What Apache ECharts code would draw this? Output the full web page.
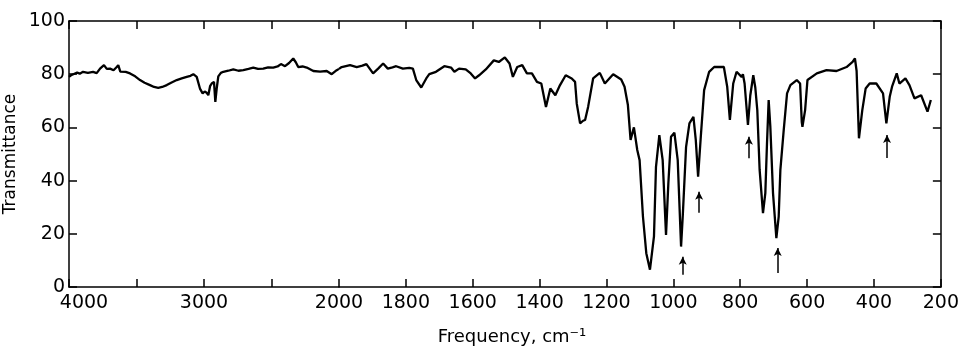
<!DOCTYPE html>
<html>
<head>
<meta charset="utf-8">
<script src="https://cdn.jsdelivr.net/npm/echarts@6/dist/echarts.min.js"></script>
<style>
  html, body { margin: 0; padding: 0; background: #fff; }
  #chart { width: 962px; height: 346px; }
</style>
</head>
<body>
<div id="chart"></div>
<script>
// Spectrum: [wavenumber cm^-1, transmittance %]
const spectrumHigh = [
  [4000, 79.0], [3985, 79.6], [3968, 80.0], [3940, 80.6], [3920, 80.2], [3896, 80.9],
  [3860, 80.5], [3822, 80.9], [3795, 80.4], [3770, 82.1], [3741, 83.4], [3720, 82.0],
  [3696, 82.1], [3670, 81.5], [3650, 82.5], [3635, 83.4], [3620, 81.0], [3610, 81.6],
  [3580, 80.9], [3548, 80.3], [3510, 79.2], [3474, 77.8], [3440, 76.8], [3400, 75.9],
  [3370, 75.2], [3339, 74.9], [3310, 75.2], [3276, 75.9], [3240, 76.9], [3202, 77.8],
  [3165, 78.4], [3128, 79.0], [3100, 79.4], [3079, 80.0], [3054, 79.0], [3030, 74.6],
  [3010, 72.8], [2995, 73.5], [2980, 73.0], [2968, 72.1], [2955, 75.5], [2943, 76.5],
  [2926, 77.1], [2916, 69.6], [2905, 75.0], [2894, 79.2], [2875, 80.5], [2857, 80.9],
  [2820, 81.3], [2783, 81.8], [2745, 81.3], [2709, 81.5], [2670, 82.0], [2635, 82.5],
  [2600, 82.0], [2561, 82.1], [2525, 82.6], [2487, 82.5], [2455, 82.9], [2430, 83.8],
  [2400, 83.0], [2370, 84.2], [2339, 85.9], [2320, 84.5], [2302, 82.7], [2270, 82.9],
  [2239, 82.5], [2190, 81.2], [2140, 81.0], [2091, 81.2], [2054, 80.0], [2017, 81.5],
  [2000, 82.0]
];
const spectrumLow = [
  [2000, 82.0], [1992, 82.7], [1967, 83.4], [1947, 82.7], [1930, 83.2], [1918, 83.8],
  [1898, 80.3], [1883, 82.1], [1868, 84.0], [1854, 82.1], [1840, 82.6], [1829, 83.0],
  [1809, 82.1], [1790, 82.4], [1779, 82.1], [1769, 77.8], [1754, 75.0], [1739, 78.4],
  [1730, 80.0], [1710, 80.9], [1685, 83.0], [1665, 82.5], [1655, 80.9], [1641, 82.1],
  [1621, 81.8], [1606, 80.3], [1593, 78.4], [1581, 79.6], [1561, 81.8], [1537, 85.2],
  [1522, 84.6], [1504, 86.3], [1490, 84.0], [1480, 79.0], [1467, 82.7], [1452, 83.4],
  [1438, 80.3], [1423, 80.3], [1408, 77.1], [1395, 76.5], [1381, 67.7], [1368, 74.6],
  [1353, 72.1], [1339, 75.9], [1322, 79.6], [1304, 78.4], [1294, 77.1], [1289, 69.0],
  [1279, 61.5], [1270, 62.5], [1264, 62.8], [1255, 67.7], [1240, 78.4], [1220, 80.5],
  [1205, 76.5], [1180, 80.0], [1156, 78.0], [1146, 75.3], [1136, 68.4], [1128, 55.3],
  [1118, 60.0], [1108, 51.5], [1101, 47.7], [1091, 26.5], [1081, 12.7], [1070, 6.5],
  [1066, 5.9], [1058, 19.0], [1052, 45.2], [1042, 57.1], [1032, 47.7], [1022, 19.6],
  [1015, 39.0], [1007, 56.5], [997, 58.0], [987, 47.7], [977, 15.2], [972, 26.5],
  [962, 52.7], [952, 61.5], [940, 64.0], [933, 55.3], [926, 41.5], [918, 56.5],
  [908, 74.0], [893, 80.9], [878, 82.7], [849, 82.7], [839, 75.3], [831, 62.8],
  [821, 76.5], [811, 80.9], [796, 79.0], [792, 80.0], [787, 76.5], [777, 60.9],
  [770, 72.0], [761, 79.6], [755, 75.0], [749, 66.5], [742, 44.0], [732, 27.8],
  [725, 35.3], [720, 54.0], [715, 70.3], [710, 60.2], [702, 35.3], [692, 18.4],
  [685, 26.5], [680, 44.0], [670, 59.0], [660, 72.8], [650, 75.9], [631, 77.8],
  [621, 76.5], [616, 62.0], [614, 60.2], [606, 66.5], [599, 77.8], [571, 80.3],
  [542, 81.5], [512, 81.2], [482, 82.7], [464, 84.6], [457, 85.9], [452, 81.2],
  [445, 55.9], [435, 66.5], [425, 74.6], [413, 76.5], [393, 76.5], [373, 72.8],
  [363, 61.5], [353, 71.5], [346, 75.3], [332, 80.3], [324, 76.5], [306, 78.4],
  [294, 75.9], [279, 70.9], [259, 72.1], [240, 65.9], [230, 70.3]
];
// Arrow annotations: [wavenumber, tail T, head T]
const arrows = [
  [972, 4.6, 11.4],
  [923, 27.9, 35.8],
  [774, 48.4, 56.5],
  [688, 5.3, 14.7],
  [361, 48.5, 57.1]
];
const highTicks = [2000, 4000, 500];   // min, max, interval
const lowTicks = [200, 2000, 200];
const highLabels = [4000, 3000];
const yTicks = [0, 100, 20];
const xTitle = 'Frequency, cm⁻¹';
const yTitle = 'Transmittance';

const FONT = 'DejaVu Sans';
const axisLineStyle = { color: '#000', width: 1.5 };
const tickCommon = { show: true, inside: true, length: 8, lineStyle: { color: '#000', width: 1.5 } };
const labelCommon = { color: '#000', fontFamily: FONT, fontSize: 19 };

const chart = echarts.init(document.getElementById('chart'), null, { renderer: 'canvas' });
const option = {
  backgroundColor: '#fff',
  animation: false,
  grid: [
    { left: 69, width: 270, top: 21, bottom: 59 },
    { left: 339, width: 606, top: 21, bottom: 59 }
  ],
  xAxis: [
    {
      gridIndex: 0, type: 'value', position: 'bottom', inverse: true,
      min: highTicks[0], max: highTicks[1], interval: highTicks[2],
      axisLine: { show: true, lineStyle: axisLineStyle },
      axisTick: tickCommon,
      splitLine: { show: false },
      axisLabel: Object.assign({}, labelCommon, {
        margin: 7, showMinLabel: true, showMaxLabel: true,
        formatter: v => v === highLabels[0] ? '{a|' + v + '}' : (highLabels.includes(v) ? String(v) : ''),
        rich: { a: { padding: [0, 0, 0, 30], color: '#000', fontFamily: FONT, fontSize: 19 } }
      })
    },
    {
      gridIndex: 0, type: 'value', position: 'top', inverse: true,
      min: highTicks[0], max: highTicks[1], interval: highTicks[2],
      axisLine: { show: true, lineStyle: axisLineStyle },
      axisTick: tickCommon, splitLine: { show: false }, axisLabel: { show: false }
    },
    {
      gridIndex: 1, type: 'value', position: 'bottom', inverse: true,
      min: lowTicks[0], max: lowTicks[1], interval: lowTicks[2],
      axisLine: { show: true, lineStyle: axisLineStyle },
      axisTick: tickCommon, splitLine: { show: false },
      axisLabel: Object.assign({}, labelCommon, {
        margin: 7, showMinLabel: true, showMaxLabel: true,
        formatter: v => String(v)
      })
    },
    {
      gridIndex: 1, type: 'value', position: 'top', inverse: true,
      min: lowTicks[0], max: lowTicks[1], interval: lowTicks[2],
      axisLine: { show: true, lineStyle: axisLineStyle },
      axisTick: tickCommon, splitLine: { show: false }, axisLabel: { show: false }
    }
  ],
  yAxis: [
    {
      gridIndex: 0, type: 'value', position: 'left',
      min: yTicks[0], max: yTicks[1], interval: yTicks[2],
      axisLine: { show: true, lineStyle: axisLineStyle },
      axisTick: tickCommon, splitLine: { show: false },
      axisLabel: Object.assign({}, labelCommon, { margin: 4 }),
      name: yTitle, nameLocation: 'middle', nameGap: 50,
      nameTextStyle: { color: '#000', fontFamily: FONT, fontSize: 17 }
    },
    {
      gridIndex: 1, type: 'value', position: 'right',
      min: yTicks[0], max: yTicks[1], interval: yTicks[2],
      axisLine: { show: true, lineStyle: axisLineStyle },
      axisTick: tickCommon, splitLine: { show: false },
      axisLabel: { show: false }
    }
  ],
  graphic: [
    {
      type: 'text', x: 512, y: 337,
      style: {
        text: xTitle, fill: '#000', font: '18px "DejaVu Sans"',
        align: 'center', verticalAlign: 'middle',
        textAlign: 'center', textVerticalAlign: 'middle'
      }
    }
  ],
  series: [
    {
      type: 'line', xAxisIndex: 0, yAxisIndex: 0, data: spectrumHigh,
      showSymbol: false, symbol: 'none',
      lineStyle: { color: '#000', width: 2.3 }
    },
    {
      type: 'line', xAxisIndex: 2, yAxisIndex: 1, data: spectrumLow,
      showSymbol: false, symbol: 'none',
      lineStyle: { color: '#000', width: 2.3 },
      markLine: {
        silent: true, animation: false,
        symbol: ['none', 'arrow'], symbolSize: [6, 8],
        label: { show: false },
        lineStyle: { color: '#000', width: 1.5, type: 'solid' },
        data: arrows.map(a => [{ coord: [a[0], a[1]] }, { coord: [a[0], a[2]] }])
      }
    }
  ]
};
chart.setOption(option);
</script>
</body>
</html>
